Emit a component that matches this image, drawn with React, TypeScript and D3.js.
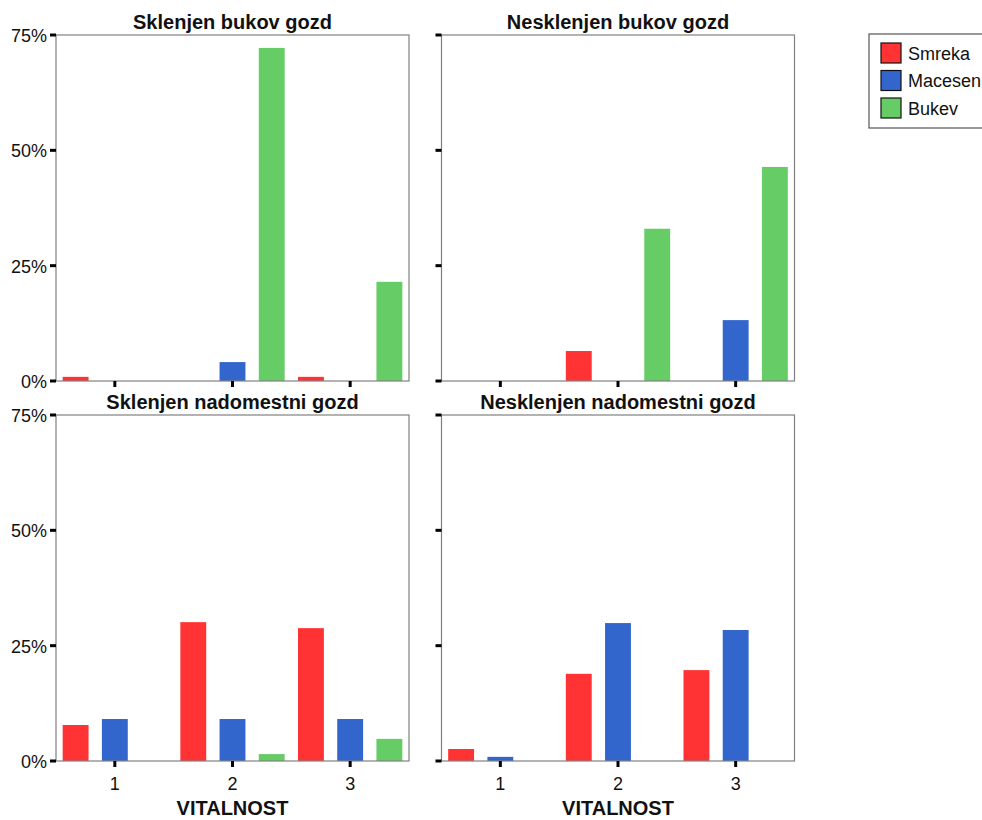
import React from "react";
import * as d3 from "d3";

const categories = ["1", "2", "3"];
const series = ["Smreka", "Macesen", "Bukev"];
const colors = ["#FF3333", "#3366CC", "#66CC66"];
const yTicks = [0, 25, 50, 75];

const panelTitles = [
  "Sklenjen bukov gozd",
  "Nesklenjen bukov gozd",
  "Sklenjen nadomestni gozd",
  "Nesklenjen nadomestni gozd",
];
// values[panel][category][series] in %
const sklenjenBukov = [
  [0.9, 0, 0],
  [0, 4.1, 72.2],
  [0.9, 0, 21.5],
];
const nesklenjenBukov = [
  [0, 0, 0],
  [6.5, 0, 33.0],
  [0, 13.2, 46.4],
];
const sklenjenNadomestni = [
  [7.8, 9.1, 0],
  [30.1, 9.1, 1.5],
  [28.8, 9.1, 4.8],
];
const nesklenjenNadomestni = [
  [2.6, 0.9, 0],
  [18.9, 29.9, 0],
  [19.7, 28.4, 0],
];
const panelData = [sklenjenBukov, nesklenjenBukov, sklenjenNadomestni, nesklenjenNadomestni];

const xTitle = "VITALNOST";
const FONT = "'Liberation Sans', Arial, sans-serif";

const panelLeft = [56, 441.5];
const panelTop = [35, 415];
const PW = 353;
const PH = 346;

function Panel({ idx }: { idx: number }) {
  const col = idx % 2;
  const row = Math.floor(idx / 2);
  const x0 = panelLeft[col];
  const y0 = panelTop[row];
  const data = panelData[idx];
  const x = d3.scaleBand().domain(categories).range([0, PW]);
  const x1 = d3
    .scaleBand()
    .domain(series)
    .range([0, x.bandwidth()])
    .paddingInner(0.34)
    .paddingOuter(0.17);
  const y = d3.scaleLinear().domain([0, 75]).range([PH, 0]);
  return (
    <g transform={`translate(${x0},${y0})`}>
      <text
        x={PW / 2}
        y={-6}
        textAnchor="middle"
        fontFamily={FONT}
        fontWeight="bold"
        fontSize={20}
        fill="#111"
      >
        {panelTitles[idx]}
      </text>
      {data.map((vals, ci) =>
        vals.map((v, si) =>
          v > 0 ? (
            <rect
              key={`${ci}-${si}`}
              x={(x(categories[ci]) ?? 0) + (x1(series[si]) ?? 0)}
              y={y(v)}
              width={x1.bandwidth()}
              height={PH - y(v)}
              fill={colors[si]}
            />
          ) : null
        )
      )}
      <rect x={0} y={0} width={PW} height={PH} fill="none" stroke="#808080" strokeWidth={1.2} />
      {yTicks.map((t) => (
        <g key={t}>
          <line x1={-6} x2={0} y1={y(t)} y2={y(t)} stroke="#000" strokeWidth={3} />
          {col === 0 ? (
            <text
              x={-9}
              y={y(t) + 7}
              textAnchor="end"
              fontFamily={FONT}
              fontSize={18}
              fill="#111"
            >
              {t}%
            </text>
          ) : null}
        </g>
      ))}
      {categories.map((c) => (
        <g key={c}>
          <line
            x1={(x(c) ?? 0) + x.bandwidth() / 2}
            x2={(x(c) ?? 0) + x.bandwidth() / 2}
            y1={PH}
            y2={PH + 6}
            stroke="#000"
            strokeWidth={3}
          />
          {row === 1 ? (
            <text
              x={(x(c) ?? 0) + x.bandwidth() / 2}
              y={PH + 29}
              textAnchor="middle"
              fontFamily={FONT}
              fontSize={18}
              fill="#111"
            >
              {c}
            </text>
          ) : null}
        </g>
      ))}
      {row === 1 ? (
        <text
          x={PW / 2}
          y={PH + 54}
          textAnchor="middle"
          fontFamily={FONT}
          fontWeight="bold"
          fontSize={20}
          fill="#111"
        >
          {xTitle}
        </text>
      ) : null}
    </g>
  );
}

function Legend() {
  return (
    <g transform="translate(869,34)">
      <rect x={0} y={0} width={130} height={94} fill="#fff" stroke="#555" strokeWidth={1.2} />
      {series.map((s, i) => (
        <g key={s} transform={`translate(12,${9 + i * 27.5})`}>
          <rect x={0} y={0} width={20} height={20} fill={colors[i]} stroke="#111" strokeWidth={1.2} />
          <text x={27} y={16.5} fontFamily={FONT} fontSize={18} fill="#111">
            {s}
          </text>
        </g>
      ))}
    </g>
  );
}

export default function App() {
  return (
    <div style={{ position: "absolute", left: 0, top: 0 }}>
      <svg width={982} height={820} style={{ display: "block" }}>
        <rect width={982} height={820} fill="#fff" />
        {[0, 1, 2, 3].map((i) => (
          <Panel key={i} idx={i} />
        ))}
        <Legend />
      </svg>
    </div>
  );
}
